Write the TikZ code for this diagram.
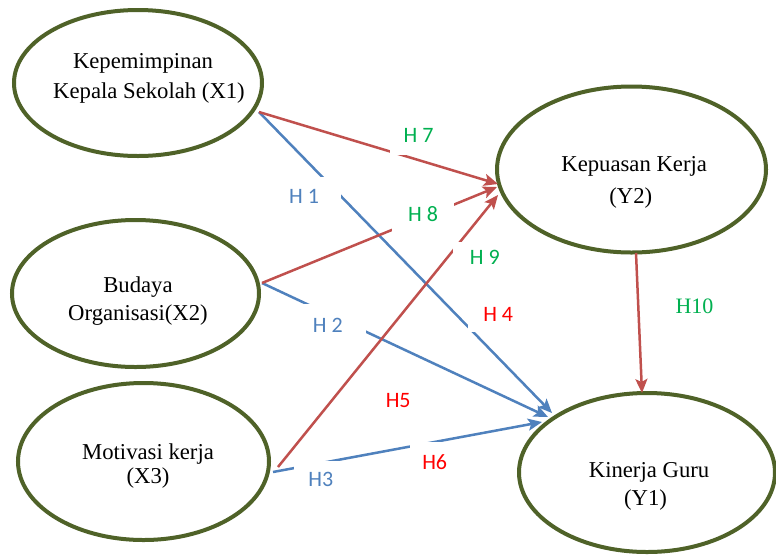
\documentclass[tikz,border=0pt]{standalone}
\usepackage{fontspec}
\setmainfont{Liberation Serif}
\newfontfamily\lblfont{Carlito}
\usetikzlibrary{arrows.meta,shapes.geometric,calc}
\definecolor{ellcol}{HTML}{4F6228}
\definecolor{redline}{HTML}{C0504D}
\definecolor{blueline}{HTML}{4F81BD}
\definecolor{greentxt}{HTML}{00B050}
\definecolor{redtxt}{HTML}{FF0000}
\definecolor{bluetxt}{HTML}{4F81BD}
\begin{document}
\begin{tikzpicture}[x=1pt,y=-1pt,
  ell/.style={ellipse, draw=ellcol, line width=4pt, fill=white, inner sep=0pt, outer sep=0pt},
  etext/.style={anchor=base, inner sep=0pt, font=\fontsize{22.7}{#1}\selectfont},
  conn/.style={line width=2.5pt, -{Stealth[length=14pt,width=12pt,inset=3pt]}},
  redc/.style={conn, draw=redline},
  bluec/.style={conn, draw=blueline},
  hlbl/.style={fill=white, inner sep=0pt, font=\lblfont\fontsize{22}{26}\selectfont},
]
\path[use as bounding box, fill=white] (0,0) rectangle (776,555);

% ellipses
\node[ell, minimum width=248pt, minimum height=146pt] (x1) at (138,83) {};
\node[ell, minimum width=247pt, minimum height=147pt] (x2) at (135.5,293.5) {};
\node[ell, minimum width=251pt, minimum height=157pt] (x3) at (143.5,461.5) {};
\node[ell, minimum width=269pt, minimum height=166pt] (y2) at (631.5,169.5) {};
\node[ell, minimum width=256pt, minimum height=159pt] (y1) at (647,472.5) {};

% ellipse texts
\node[etext=30] (x1t) at (146,68.3) {\begin{tabular}[t]{@{}c@{}}Kepemimpinan\hspace*{6pt}\\\hspace*{6pt}Kepala Sekolah (X1)\end{tabular}};
\node[etext=27.3] (x2t) at (138,292.7) {\begin{tabular}[t]{@{}c@{}}Budaya\\Organisasi(X2)\end{tabular}};
\node[etext=24] (x3t) at (148,459.3) {\begin{tabular}[t]{@{}c@{}}Motivasi kerja\\(X3)\end{tabular}};
\node[etext=31.6] (y2t) at (632.5,171.7) {\begin{tabular}[t]{@{}c@{}}\hspace*{3.4pt}Kepuasan Kerja\\(Y2)\hspace*{3.4pt}\end{tabular}};
\node[etext=27.3] (y1t) at (647.3,477.7) {\begin{tabular}[t]{@{}c@{}}\hspace*{3.5pt}Kinerja Guru\\(Y1)\hspace*{3.5pt}\end{tabular}};

% connectors
\draw[bluec] ($(x1.center)+(121,29)$) -- ($(y1.center)+(-95,-59.5)$);
\draw[bluec] ($(x2.center)+(126.5,-10.5)$) -- ($(y1.center)+(-99,-55.5)$);
\draw[bluec] ($(x3.center)+(129.5,10.5)$) -- ($(y1.center)+(-105,-50.5)$);
\draw[redc] ($(x1.center)+(121,29)$) -- ($(y2.center)+(-133.5,14.5)$);
\draw[redc] ($(x2.center)+(126.5,-10.5)$) -- ($(y2.center)+(-134.5,17.5)$);
\draw[redc] ($(x3.center)+(134.5,5.5)$) -- ($(y2.center)+(-133.5,25.5)$);
\draw[redc] ($(y2.center)+(4.5,83.5)$) -- ($(y1.center)+(-5,-79.5)$);

% labels
\node[hlbl, text=bluetxt, minimum width=74pt, minimum height=40pt] (h1) at (304,196.7) {H 1};
\node[hlbl, text=bluetxt, minimum width=76pt, minimum height=42pt] (h2) at (327.8,325.3) {H 2};
\node[hlbl, text=bluetxt, minimum width=54pt, minimum height=36pt] (h3) at (320.8,479.2) {H3};
\node[hlbl, text=redtxt, minimum width=60pt, minimum height=36pt] (h4) at (498.2,314.2) {H 4};
\node[hlbl, text=redtxt, minimum width=50pt, minimum height=36pt] (h5) at (398.2,400.8) {H5};
\node[hlbl, text=redtxt, minimum width=50pt, minimum height=40pt] (h6) at (434.7,462) {H6};
\node[hlbl, text=greentxt, minimum width=58pt, minimum height=40pt] (h7) at (418.5,135.3) {H 7};
\node[hlbl, text=greentxt, minimum width=62pt, minimum height=40pt] (h8) at (423,213.8) {H 8};
\node[hlbl, text=greentxt, minimum width=64pt, minimum height=32pt] (h9) at (484.8,257.5) {H 9};
\node[inner sep=0pt, text=greentxt, font=\fontsize{22}{26}\selectfont] (h10) at (694.5,305.8) {H10};
\end{tikzpicture}
\end{document}
